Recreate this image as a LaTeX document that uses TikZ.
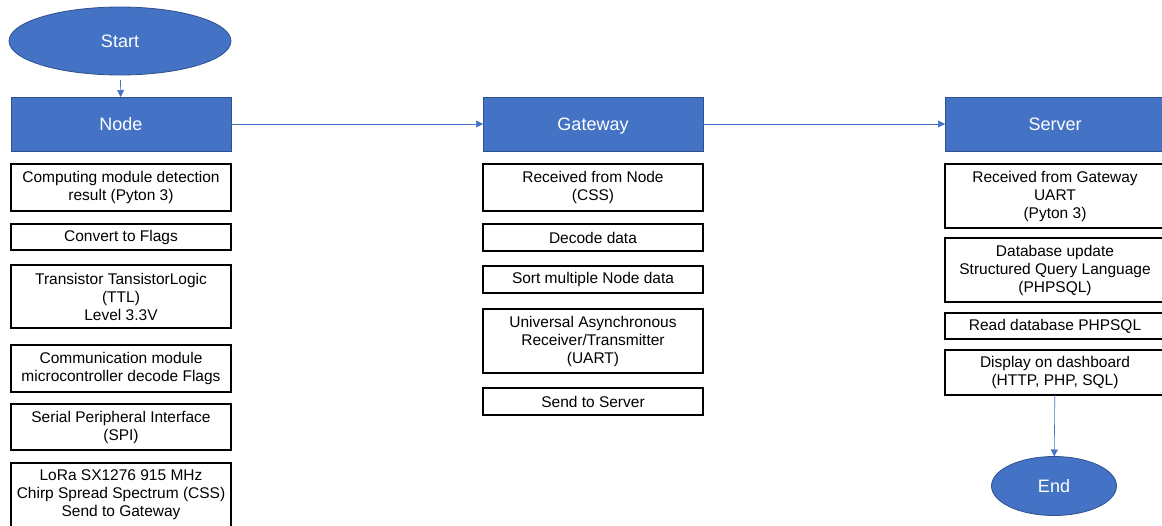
\documentclass[tikz,border=0pt]{standalone}
\usepackage{fontspec}
\setmainfont{Liberation Sans}
\usepackage{xcolor}
\usepackage{tikz}
\usetikzlibrary{positioning,shapes.geometric,arrows.meta}
\definecolor{hdrblue}{HTML}{4472C4}
\definecolor{hdredge}{HTML}{2F528F}
\tikzset{
  % --- blue headers and terminals -------------------------------------------
  hdr/.style={rectangle,draw=hdredge,fill=hdrblue,text=white,line width=0.8pt,
              minimum width=220pt,minimum height=54pt,inner sep=0pt,
              outer sep=0pt,text height=13pt,text depth=0pt,
              font=\fontsize{18}{21}\selectfont},
  term/.style={ellipse,draw=hdredge,fill=hdrblue,text=white,line width=0.8pt,
               inner sep=0pt,outer sep=0pt,text height=13pt,text depth=0pt,
               font=\fontsize{18}{21}\selectfont},
  % --- white process steps ---------------------------------------------------
  stepbox/.style={rectangle,draw=black,fill=white,line width=1.1pt,
                  align=center,minimum width=220pt,inner sep=0pt,outer sep=0pt},
  ar/.style={-{Triangle[length=7pt,width=7pt]},draw=hdrblue,line width=0.6pt},
}

\begin{document}
\begin{tikzpicture}[x=1pt,y=1pt,font=\fontsize{15.5}{18}\selectfont]
  \clip (0,0) rectangle (1162,-525);

  \node[term,minimum width=222pt,minimum height=68pt] (start) at (120,-41) {Start};

  \node[hdr] (nodehdr) at (121,-124) {Node};
  \node[hdr] (gatehdr) at (593,-124) {Gateway};
  \node[hdr] (servhdr) at (1055,-124) {Server};

  % Node column
  \node[stepbox,minimum height=47pt,below=13pt of nodehdr] (nc1)
       {Computing module detection\\result (Pyton 3)};
  \node[stepbox,minimum height=26pt,below=13pt of nc1] (nc2) {Convert to Flags};
  \node[stepbox,minimum height=63pt,below=15pt of nc2] (nc3)
       {Transistor TansistorLogic\\(TTL)\\Level 3.3V};
  \node[stepbox,minimum height=47pt,below=17pt of nc3] (nc4)
       {Communication module\\microcontroller decode Flags};
  \node[stepbox,minimum height=46pt,below=12pt of nc4] (nc5)
       {Serial Peripheral Interface\\(SPI)};
  \node[stepbox,minimum height=64pt,below=13pt of nc5] (nc6)
       {LoRa SX1276 915 MHz\\Chirp Spread Spectrum (CSS)\\Send to Gateway};

  % Gateway column
  \node[stepbox,minimum height=47pt,below=13pt of gatehdr] (gc1)
       {Received from Node\\(CSS)};
  \node[stepbox,minimum height=27pt,below=13pt of gc1] (gc2) {Decode data};
  \node[stepbox,minimum height=27pt,below=15pt of gc2] (gc3)
       {Sort multiple Node data};
  \node[stepbox,minimum height=64pt,below=16pt of gc3] (gc4)
       {Universal Asynchronous\\Receiver/Transmitter\\(UART)};
  \node[stepbox,minimum height=27pt,below=15pt of gc4] (gc5) {Send to Server};

  % Server column
  \node[stepbox,minimum height=64pt,below=13pt of servhdr] (sc1)
       {Received from Gateway\\UART\\(Pyton 3)};
  \node[stepbox,minimum height=64pt,below=10pt of sc1] (sc2)
       {Database update\\Structured Query Language\\(PHPSQL)};
  \node[stepbox,minimum height=26pt,below=11pt of sc2] (sc3)
       {Read database PHPSQL};
  \node[stepbox,minimum height=45pt,below=11pt of sc3] (sc4)
       {Display on dashboard\\(HTTP, PHP, SQL)};

  \node[term,minimum width=125pt,minimum height=59pt] (finish) at (1054,-486) {End};

  \draw[ar,shorten <=5pt] (start) -- (nodehdr);
  \draw[ar] (nodehdr) -- (gatehdr);
  \draw[ar] (gatehdr) -- (servhdr);
  \draw[ar] (sc4) -- (finish);
\end{tikzpicture}
\end{document}
